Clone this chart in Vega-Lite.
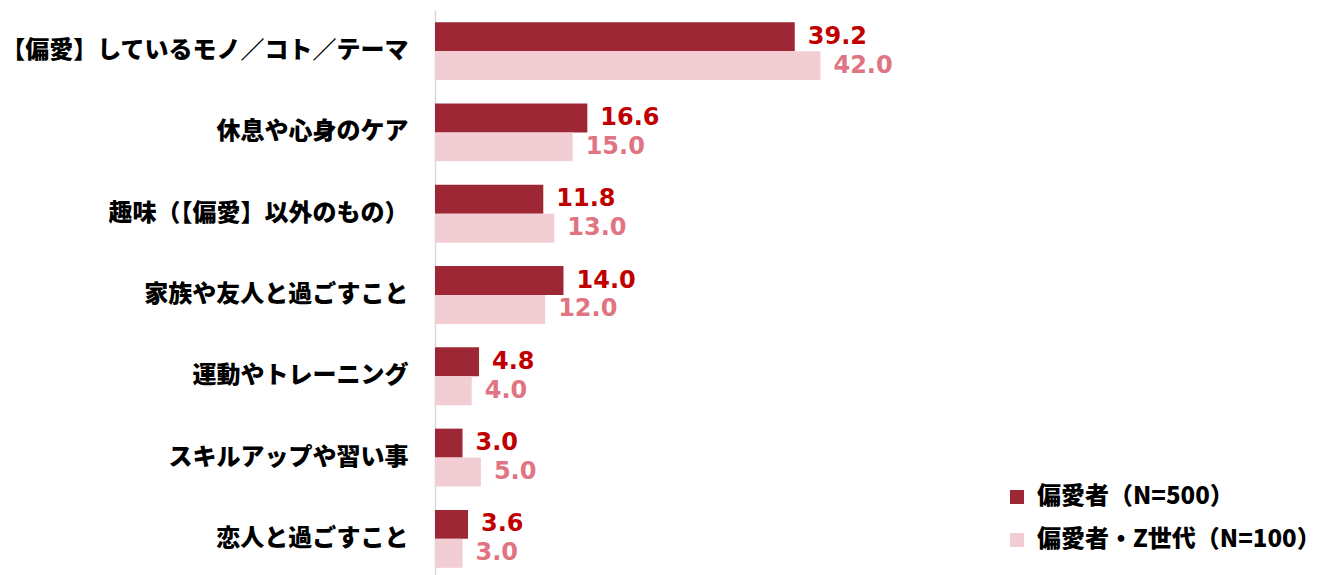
{
  "$schema": "https://vega.github.io/schema/vega-lite/v6.json",
  "width": 870,
  "height": 570,
  "autosize": "none",
  "padding": {"left": 435, "top": 10, "right": 25, "bottom": 0},
  "config": {"view": {"stroke": null}, "font": "Noto Sans CJK JP"},
  "data": {"values": [
    {"item": "【偏愛】しているモノ／コト／テーマ", "group": "偏愛者（N=500）", "value": 39.2},
    {"item": "【偏愛】しているモノ／コト／テーマ", "group": "偏愛者・Z世代（N=100）", "value": 42.0},
    {"item": "休息や心身のケア", "group": "偏愛者（N=500）", "value": 16.6},
    {"item": "休息や心身のケア", "group": "偏愛者・Z世代（N=100）", "value": 15.0},
    {"item": "趣味（【偏愛】以外のもの）", "group": "偏愛者（N=500）", "value": 11.8},
    {"item": "趣味（【偏愛】以外のもの）", "group": "偏愛者・Z世代（N=100）", "value": 13.0},
    {"item": "家族や友人と過ごすこと", "group": "偏愛者（N=500）", "value": 14.0},
    {"item": "家族や友人と過ごすこと", "group": "偏愛者・Z世代（N=100）", "value": 12.0},
    {"item": "運動やトレーニング", "group": "偏愛者（N=500）", "value": 4.8},
    {"item": "運動やトレーニング", "group": "偏愛者・Z世代（N=100）", "value": 4.0},
    {"item": "スキルアップや習い事", "group": "偏愛者（N=500）", "value": 3.0},
    {"item": "スキルアップや習い事", "group": "偏愛者・Z世代（N=100）", "value": 5.0},
    {"item": "恋人と過ごすこと", "group": "偏愛者（N=500）", "value": 3.6},
    {"item": "恋人と過ごすこと", "group": "偏愛者・Z世代（N=100）", "value": 3.0}
  ]},
  "encoding": {
    "y": {
      "field": "item", "type": "nominal",
      "sort": ["【偏愛】しているモノ／コト／テーマ", "休息や心身のケア", "趣味（【偏愛】以外のもの）", "家族や友人と過ごすこと", "運動やトレーニング", "スキルアップや習い事", "恋人と過ごすこと"],
      "scale": {"paddingInner": 0.288, "paddingOuter": 0.15},
      "axis": {"title": null, "ticks": false, "domainColor": "#d9d9d9", "domainWidth": 1.5, "labelFontSize": 24, "labelFontWeight": 900, "labelColor": "#000000", "labelPadding": 27, "labelLimit": 500}
    },
    "yOffset": {"field": "group", "type": "nominal", "sort": ["偏愛者（N=500）", "偏愛者・Z世代（N=100）"], "scale": {"paddingInner": 0, "paddingOuter": 0}},
    "x": {"field": "value", "type": "quantitative", "scale": {"domain": [0, 94.8]}, "axis": null}
  },
  "layer": [
    {
      "mark": {"type": "bar"},
      "encoding": {
        "color": {
          "field": "group", "type": "nominal",
          "sort": ["偏愛者（N=500）", "偏愛者・Z世代（N=100）"],
          "scale": {"domain": ["偏愛者（N=500）", "偏愛者・Z世代（N=100）"], "range": ["#9e2735", "#f2cdd3"]},
          "legend": {"title": null, "orient": "none", "legendX": 570, "legendY": 475, "symbolType": "square", "symbolSize": 196, "symbolStrokeWidth": 0, "labelFontSize": 24, "labelFontWeight": 900, "labelColor": "#000000", "rowPadding": 19, "labelOffset": 8, "labelLimit": 400}
        }
      }
    },
    {
      "transform": [{"filter": "datum.group === '偏愛者（N=500）'"}],
      "mark": {"type": "text", "align": "left", "baseline": "middle", "dx": 13, "font": "DejaVu Sans", "fontWeight": "bold", "fontSize": 24, "color": "#c00000"},
      "encoding": {"text": {"field": "value", "type": "quantitative", "format": ".1f"}}
    },
    {
      "transform": [{"filter": "datum.group === '偏愛者・Z世代（N=100）'"}],
      "mark": {"type": "text", "align": "left", "baseline": "middle", "dx": 13, "font": "DejaVu Sans", "fontWeight": "bold", "fontSize": 24, "color": "#e07483"},
      "encoding": {"text": {"field": "value", "type": "quantitative", "format": ".1f"}}
    }
  ]
}
